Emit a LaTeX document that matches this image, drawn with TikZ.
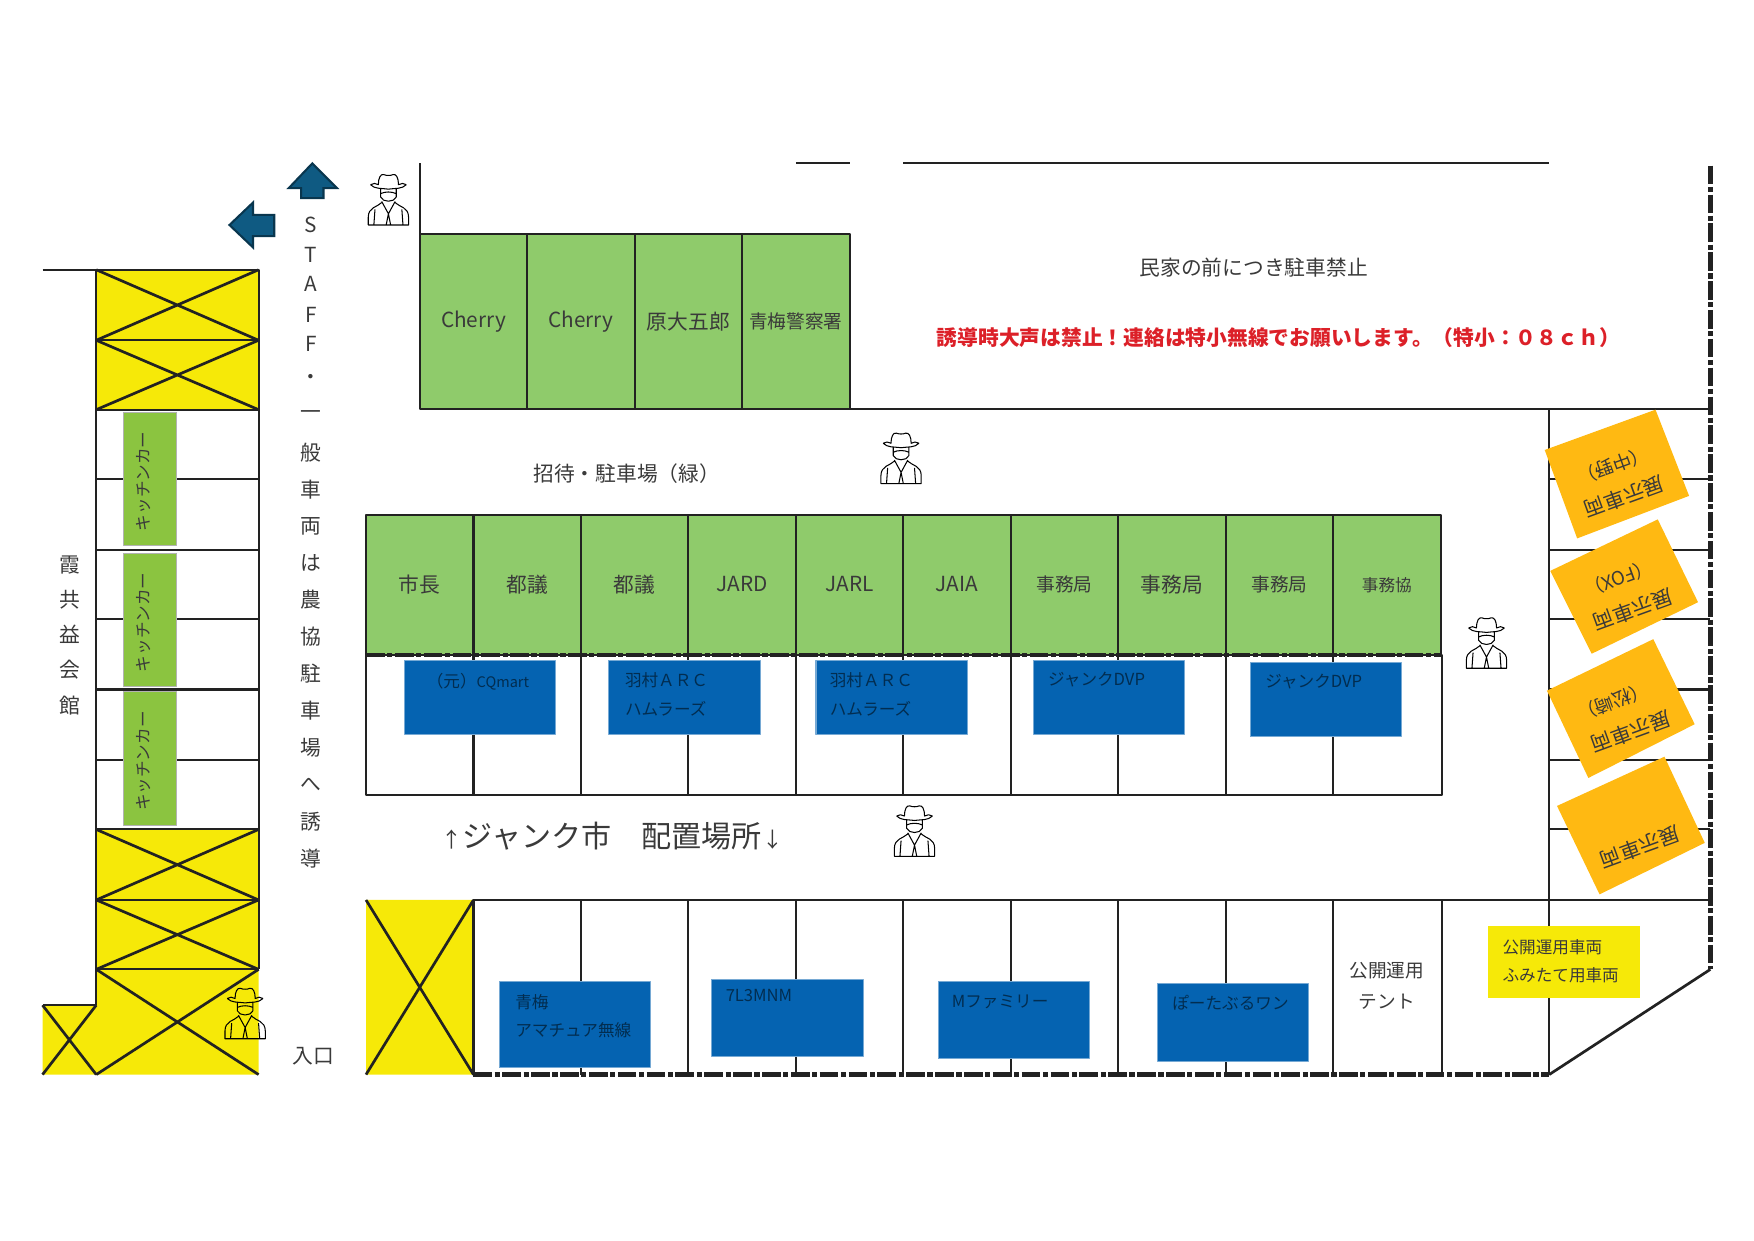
\documentclass[tikz,border=0pt]{standalone}
\usepackage{fontspec}
\setmainfont{Noto Sans CJK JP}
\definecolor{lotgreen}{HTML}{8FCB6B}
\definecolor{kitchengreen}{HTML}{8BC440}
\definecolor{juncblue}{HTML}{0563B1}
\definecolor{noparkyellow}{HTML}{F6E908}
\definecolor{showorange}{HTML}{FFB912}
\definecolor{arrowblue}{HTML}{0F5A82}
\definecolor{inkdark}{HTML}{222222}
\definecolor{labelgray}{HTML}{3A3A3A}
\definecolor{warnred}{HTML}{DC2028}
\newcommand{\fsz}[1]{\fontsize{#1}{#1}\selectfont}
\tikzset{
	lane/.style = {line width = 1pt, draw = inkdark},
	crossline/.style = {line width = 1.3pt, draw = inkdark},
	edgeline/.style = {line width = 2.1pt, draw = inkdark, dash pattern = on 9pt off 1.2pt on 2.5pt off 1.2pt},
	lotbox/.style = {rectangle, line width = 1pt, draw = inkdark, fill = lotgreen, anchor = center, outer sep = 0pt, minimum width = 1.8195cm, text = labelgray},
	juncbox/.style = {fill = juncblue, draw = juncblue!55!white, line width = .5pt},
	kitchenbox/.style = {fill = kitchengreen, draw = gray!60, line width = .4pt},
	juncname/.style = {anchor = west, inner sep = 0pt, text = juncblue!45!black, font = \fsz{8}},
	plain/.style = {inner sep = 0pt, text = labelgray, font = \fsz{10}},
	turned/.style = {inner sep = 0pt, text = labelgray, rotate = 200},
	teal/.style = {fill = arrowblue, draw = arrowblue!60!black, line width = 1pt, line join = miter},
	pics/cowboy/.style = {code = {
		\draw[line width = .5pt, line join = round]
		(-16,-13) .. controls (-12,-9) and (-7,-10) .. (0,-9) .. controls (7,-10) and (12,-9) .. (16,-13)
		(-16,-13) .. controls (-14,-15) and (-11,-14) .. (-9,-13) .. controls (-9,-19) and (-7,-23) .. (-4,-22) .. controls (-2,-21) and (2,-21) .. (4,-22) .. controls (7,-23) and (9,-19) .. (9,-13) .. controls (11,-14) and (14,-15) .. (16,-13)
		(-7,-9) -- (-7,-2) .. controls (-5,3) and (5,3) .. (7,-2) -- (7,-9)
		(-7,-5) .. controls (-3,-7) and (3,-7) .. (7,-5)
		(-6,2) -- (0,13) -- (6,2)
		(-6,3) .. controls (-10,7) and (-18,7) .. (-18,16) -- (-18,23) -- (18,23) -- (18,16) .. controls (18,7) and (10,7) .. (6,3)
		(-12,9) -- (-13,23) (12,9) -- (13,23)
		(0,13) -- (-2,23) (0,13) -- (2,23);
	}},
}
\begin{document}
\begin{tikzpicture}[x = .018953cm, y = -.018953cm, line join = round]
	\useasboundingbox (0,0) rectangle (1567,1108);
	
	% yellow no parking
	\fill[noparkyellow] (86,241) rectangle (231,366) (86,741) rectangle (231,960) (38,898) rectangle (86,960) (327,804) rectangle (423,960);
	
	% left column
	\draw[lane] (38,241) -- (231,241) -- (231,866) (86,241) -- (86,898) -- (38,898);
	\foreach \y in {304,366,428,491,553,616,679,741,804,866}
	\draw[lane] (86,\y) -- (231,\y);
	\foreach \y/\yy in {241/304,304/366,741/804,804/866,866/960}
	\draw[crossline] (86,\y) -- (231,\yy) (231,\y) -- (86,\yy);
	\draw[crossline] (38,898) -- (86,960) (86,898) -- (38,960);
	\draw[crossline] (327,804) -- (423,960) (423,804) -- (327,960);
	
	% kitchen cars
	\foreach \y/\name in {368/k1,494/k2,618/k3}{
		\draw[kitchenbox] (110,\y) rectangle (158,\y+119);
		\node[plain, rotate = 90, font = \fsz{8}] (\name) at (128,\y+62) {キッチンカー};
	}
	
	% top boundary
	\draw[lane] (711,146) -- (759,146) (807,146) -- (1384,146) (375,146) -- (375,209);
	\draw[lane] (759,365) -- (1528,365) (1384,365) -- (1384,960);
	\draw[lane] (423,804) -- (1528,804) (423,804) -- (423,960);
	\foreach \x in {519,615,711,807,903,999,1095,1191,1288}
	\draw[lane] (\x,804) -- (\x,960);
	\foreach \y in {428,491,553,616,679,741}
	\draw[lane] (1384,\y) -- (1528,\y);
	\draw[lane, line width = 1.3pt] (1528,866) -- (1384,960);
	
	% row under the green lots
	\draw[lane] (327,585) rectangle (1288,710);
	\foreach \x in {423,519,615,711,807,903,999,1095,1191}
	\draw[lane] (\x,585) -- (\x,710);
	
	% green lots
	\foreach \x/\t/\s [count = \i] in {423/Cherry/10,519/Cherry/10,615/原大五郎/10,711/青梅警察署/9}
	\node[lotbox, minimum height = 2.957cm, font = \fsz{\s}] (upper\i) at (\x,287) {\t};
	\foreach \x/\t/\s [count = \i] in {375/市長/10,471/都議/10,567/都議/10,663/JARD/10,759/JARL/10,855/JAIA/10,951/事務局/9,1047/事務局/10,1143/事務局/9,1239/事務協/8}
	\node[lotbox, minimum height = 2.369cm, font = \fsz{\s}] (lower\i) at (\x,522.5) {\raisebox{.8pt}{\t}};
	
	\draw[edgeline] (327,585) -- (1288,585);
	\draw[edgeline] (423,960) -- (1384,960);
	\draw[edgeline] (1528,148) -- (1528,866);
	
	% junk market
	\foreach \x/\y/\h in {361/590/66,544/590/66,729/590/66,923/590/66,1117/592/66,446/877/77,636/875/69,838/877/69,1034/879/69}
	\draw[juncbox] (\x,\y) rectangle (\x+135,\y+\h);
	\node[juncname] (n1) at (381,609) {（元）{\fsz{7}CQmart}};
	\node[juncname] (n2) at (558,608) {羽村ＡＲＣ};
	\node[juncname] (n3) at (558,633) {ハムラーズ};
	\node[juncname] (n4) at (741,608) {羽村ＡＲＣ};
	\node[juncname] (n5) at (741,633) {ハムラーズ};
	\node[juncname] (n6) at (936,607) {ジャンクDVP};
	\node[juncname] (n7) at (1130,609) {ジャンクDVP};
	\node[juncname] (n8) at (460,895) {青梅};
	\node[juncname] (n9) at (460,920) {アマチュア無線};
	\node[juncname] (n10) at (648,889) {7L3MNM};
	\node[juncname] (n11) at (850,895) {Mファミリー};
	\node[juncname] (n12) at (1047,896) {ぽーたぶるワン};
	
	\fill[noparkyellow] (1329,827) rectangle (1465,892);
	\node[juncname, text = labelgray] (f1) at (1342,846) {公開運用車両};
	\node[juncname, text = labelgray] (f2) at (1342,871) {ふみたて用車両};
	
	% show cars
	\fill[showorange] (1380,402) -- (1479,366) -- (1509,443) -- (1409,481) -- cycle;
	\fill[showorange] (1385,510) -- (1481,464) -- (1517,538) -- (1422,584) -- cycle;
	\fill[showorange] (1382,617) -- (1477,571) -- (1514,647) -- (1419,695) -- cycle;
	\fill[showorange] (1391,720) -- (1487,676) -- (1523,753) -- (1429,799) -- cycle;
	\node[turned, font = \fsz{9}] (s1) at (1441,416) {（中野）};
	\node[turned, font = \fsz{10}] (c1) at (1451,444) {展示車両};
	\node[turned, font = \fsz{9}] (s2) at (1446,517) {（FOX）};
	\node[turned, font = \fsz{10}] (c2) at (1459,545) {展示車両};
	\node[turned, font = \fsz{9}] (s3) at (1441,627) {（松崎）};
	\node[turned, font = \fsz{10}] (c3) at (1457,654) {展示車両};
	\node[turned, font = \fsz{10}] (c4) at (1465,757) {展示車両};
	
	% arrows
	\draw[teal] (279,146) -- (301,168) -- (289,168) -- (289,177) -- (269,177) -- (269,168) -- (258,168) -- cycle;
	\draw[teal] (205,201) -- (226,181) -- (226,192) -- (245,192) -- (245,211) -- (226,211) -- (226,221) -- cycle;
	
	% texts
	\foreach \c/\y [count = \i] in {S/201,T/228,A/254,F/281,F/307,・/339,一/371,般/404,車/437,両/470,は/503,農/536,協/569,駐/602,車/635,場/668,へ/701,誘/734,導/767}
	\node[plain] (v\i) at (278,\y) {\c};
	\foreach \c/\y [count = \i] in {霞/505,共/536,益/567,会/598,館/630}
	\node[plain] (h\i) at (62,\y) {\c};
	\node[plain] (gate) at (280,944) {入口};
	\node[plain, font = \fsz{9}] (tent1) at (1239,867) {公開運用};
	\node[plain, font = \fsz{9}] (tent2) at (1239,895) {テント};
	\node[plain] (guest) at (560,423) {招待・駐車場（緑）};
	\node[plain] (nopark) at (1120,239) {民家の前につき駐車禁止};
	\node[plain, text = warnred, font = \fsz{10}\bfseries] (warn) at (1142,302) {誘導時大声は禁止！連絡は特小無線でお願いします。（特小：０８ｃｈ）};
	\node[plain, font = \fsz{14.5}] (junk) at (547,747) {{\fsz{10}↑}ジャンク市　配置場所{\fsz{10}↓}};
	
	% staff
	\pic (p1) at (347,178) {cowboy};
	\pic (p2) at (805,409) {cowboy};
	\pic (p3) at (1328,574) {cowboy};
	\pic (p4) at (817,742) {cowboy};
	\pic (p5) at (219,905) {cowboy};
\end{tikzpicture}
\end{document}
